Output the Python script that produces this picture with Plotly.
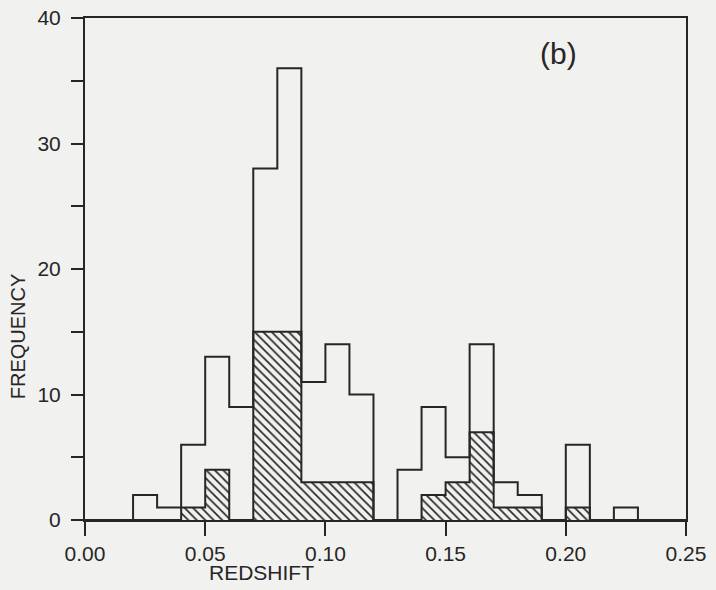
import plotly.graph_objects as go

# Bin edges (left) of redshift histogram, bin width 0.01
bin_left = [0.00, 0.01, 0.02, 0.03, 0.04, 0.05, 0.06, 0.07, 0.08, 0.09,
            0.10, 0.11, 0.12, 0.13, 0.14, 0.15, 0.16, 0.17, 0.18, 0.19,
            0.20, 0.21, 0.22, 0.23, 0.24]
bin_width = 0.01
total_counts = [0, 0, 2, 1, 6, 13, 9, 28, 36, 11,
                14, 10, 0, 4, 9, 5, 14, 3, 2, 0,
                6, 0, 1, 0, 0]
hatched_counts = [0, 0, 0, 0, 1, 4, 0, 15, 15, 3,
                  3, 3, 0, 0, 2, 3, 7, 1, 1, 0,
                  1, 0, 0, 0, 0]
x_tick_vals = [0.00, 0.05, 0.10, 0.15, 0.20, 0.25]
x_tick_text = ["0.00", "0.05", "0.10", "0.15", "0.20", "0.25"]
y_tick_vals = [0, 10, 20, 30, 40]
y_tick_text = ["0", "10", "20", "30", "40"]

BG = "#f1f1ef"
INK = "#262626"
FONT = "Liberation Sans"

centers = [b + bin_width / 2 for b in bin_left]
last_edge = bin_left[-1] + bin_width


def step_xy(counts):
    xs = [bin_left[0]] + list(bin_left) + [last_edge]
    ys = [0] + list(counts) + [0]
    return xs, ys


fig = go.Figure()

# hatched (subsample) bars
fig.add_trace(go.Bar(
    x=centers, y=hatched_counts, width=bin_width,
    marker=dict(color=BG, line=dict(width=0),
                pattern=dict(shape="\\", fgcolor=INK, bgcolor=BG,
                             size=6, solidity=0.28, fillmode="replace")),
    showlegend=False, hoverinfo="skip"))

# outline of hatched histogram
hx, hy = step_xy(hatched_counts)
fig.add_trace(go.Scatter(x=hx, y=hy, mode="lines", line=dict(shape="hv", color=INK, width=2),
                         showlegend=False, hoverinfo="skip"))

# outline of total histogram
tx, ty = step_xy(total_counts)
fig.add_trace(go.Scatter(x=tx, y=ty, mode="lines", line=dict(shape="hv", color=INK, width=2),
                         showlegend=False, hoverinfo="skip"))

fig.update_layout(
    width=716, height=590,
    margin=dict(l=85, r=30, t=18, b=70),
    paper_bgcolor=BG, plot_bgcolor=BG,
    bargap=0,
    font=dict(family=FONT, color=INK, size=21),
    xaxis=dict(range=[0, 0.25], tickvals=x_tick_vals, ticktext=x_tick_text,
               ticks="outside", ticklen=14, tickwidth=2, tickcolor=INK,
               showline=True, linewidth=2, linecolor=INK, mirror=True,
               showgrid=False, zeroline=False, automargin=False,
               tickfont=dict(family=FONT, size=21, color=INK)),
    yaxis=dict(range=[0, 40], tickvals=y_tick_vals, ticktext=y_tick_text,
               ticks="outside", ticklen=12, tickwidth=2, tickcolor=INK,
               minor=dict(dtick=5, ticks="outside", ticklen=12, tickwidth=2, tickcolor=INK),
               showline=True, linewidth=2, linecolor=INK, mirror=True,
               showgrid=False, zeroline=False, ticklabelstandoff=6, automargin=False,
               tickfont=dict(family=FONT, size=21, color=INK)),
    annotations=[
        dict(text="REDSHIFT", xref="x", yref="paper", x=0.0736, y=-0.104,
             xanchor="center", yanchor="middle", showarrow=False,
             font=dict(family=FONT, size=21, color=INK)),
        dict(text="FREQUENCY", xref="paper", yref="y", x=-0.1123, y=14.6,
             xanchor="center", yanchor="middle", textangle=-90, showarrow=False,
             font=dict(family=FONT, size=20, color=INK)),
        dict(text="(b)", xref="x", yref="y", x=0.1968, y=37.2,
             xanchor="center", yanchor="middle", showarrow=False,
             font=dict(family=FONT, size=30, color=INK)),
    ],
)

fig.write_html("out.html",
               config={"displayModeBar": False},
               post_script="document.body.style.margin='0';document.body.style.overflow='hidden';")
